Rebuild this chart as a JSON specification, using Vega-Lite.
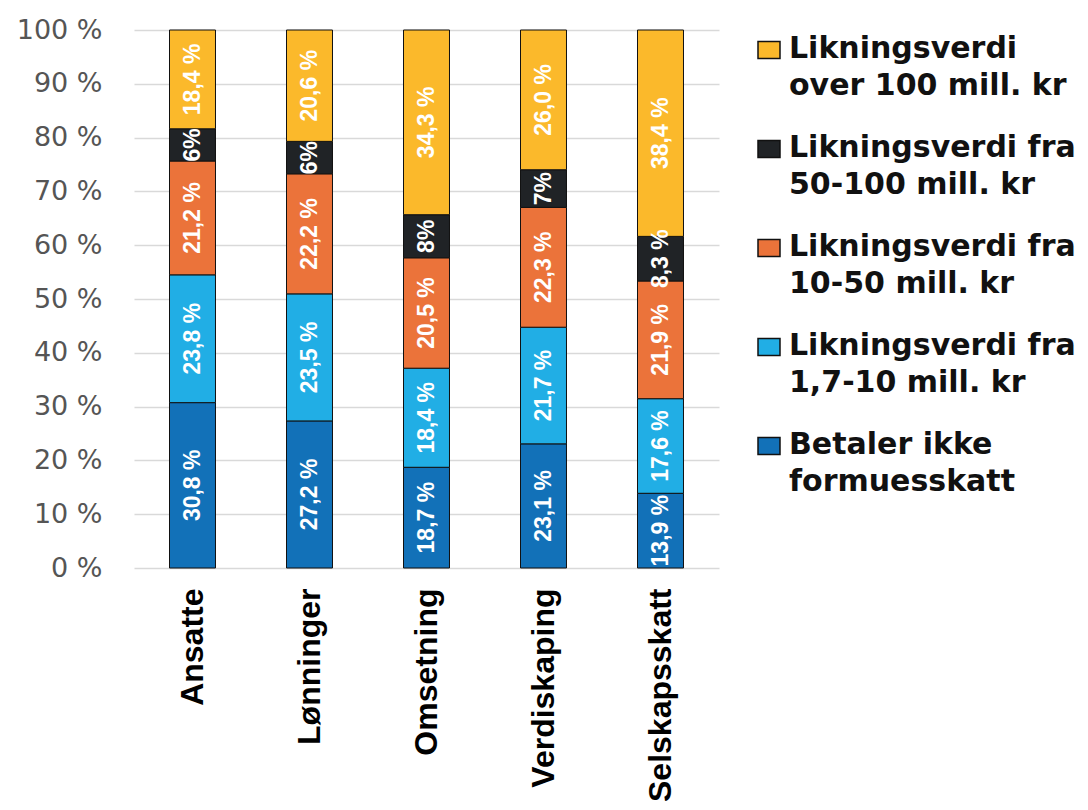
{
  "$schema": "https://vega.github.io/schema/vega-lite/v6.json",
  "width": 585,
  "height": 538,
  "padding": {"left": 16, "top": 16, "right": 0, "bottom": 0},
  "background": "white",
  "data": {
    "values": [
      {"kategori": "Ansatte", "gruppe": "Betaler ikke\nformuesskatt", "rang": 1, "andel": 30.8, "etikett": "30,8 %"},
      {"kategori": "Ansatte", "gruppe": "Likningsverdi fra\n1,7-10 mill. kr", "rang": 2, "andel": 23.8, "etikett": "23,8 %"},
      {"kategori": "Ansatte", "gruppe": "Likningsverdi fra\n10-50 mill. kr", "rang": 3, "andel": 21.2, "etikett": "21,2 %"},
      {"kategori": "Ansatte", "gruppe": "Likningsverdi fra\n50-100 mill. kr", "rang": 4, "andel": 6.0, "etikett": "6%"},
      {"kategori": "Ansatte", "gruppe": "Likningsverdi\nover 100 mill. kr", "rang": 5, "andel": 18.4, "etikett": "18,4 %"},
      {"kategori": "Lønninger", "gruppe": "Betaler ikke\nformuesskatt", "rang": 1, "andel": 27.2, "etikett": "27,2 %"},
      {"kategori": "Lønninger", "gruppe": "Likningsverdi fra\n1,7-10 mill. kr", "rang": 2, "andel": 23.5, "etikett": "23,5 %"},
      {"kategori": "Lønninger", "gruppe": "Likningsverdi fra\n10-50 mill. kr", "rang": 3, "andel": 22.2, "etikett": "22,2 %"},
      {"kategori": "Lønninger", "gruppe": "Likningsverdi fra\n50-100 mill. kr", "rang": 4, "andel": 6.0, "etikett": "6%"},
      {"kategori": "Lønninger", "gruppe": "Likningsverdi\nover 100 mill. kr", "rang": 5, "andel": 20.6, "etikett": "20,6 %"},
      {"kategori": "Omsetning", "gruppe": "Betaler ikke\nformuesskatt", "rang": 1, "andel": 18.7, "etikett": "18,7 %"},
      {"kategori": "Omsetning", "gruppe": "Likningsverdi fra\n1,7-10 mill. kr", "rang": 2, "andel": 18.4, "etikett": "18,4 %"},
      {"kategori": "Omsetning", "gruppe": "Likningsverdi fra\n10-50 mill. kr", "rang": 3, "andel": 20.5, "etikett": "20,5 %"},
      {"kategori": "Omsetning", "gruppe": "Likningsverdi fra\n50-100 mill. kr", "rang": 4, "andel": 8.0, "etikett": "8%"},
      {"kategori": "Omsetning", "gruppe": "Likningsverdi\nover 100 mill. kr", "rang": 5, "andel": 34.3, "etikett": "34,3 %"},
      {"kategori": "Verdiskaping", "gruppe": "Betaler ikke\nformuesskatt", "rang": 1, "andel": 23.1, "etikett": "23,1 %"},
      {"kategori": "Verdiskaping", "gruppe": "Likningsverdi fra\n1,7-10 mill. kr", "rang": 2, "andel": 21.7, "etikett": "21,7 %"},
      {"kategori": "Verdiskaping", "gruppe": "Likningsverdi fra\n10-50 mill. kr", "rang": 3, "andel": 22.3, "etikett": "22,3 %"},
      {"kategori": "Verdiskaping", "gruppe": "Likningsverdi fra\n50-100 mill. kr", "rang": 4, "andel": 7.0, "etikett": "7%"},
      {"kategori": "Verdiskaping", "gruppe": "Likningsverdi\nover 100 mill. kr", "rang": 5, "andel": 26.0, "etikett": "26,0 %"},
      {"kategori": "Selskapsskatt", "gruppe": "Betaler ikke\nformuesskatt", "rang": 1, "andel": 13.9, "etikett": "13,9 %"},
      {"kategori": "Selskapsskatt", "gruppe": "Likningsverdi fra\n1,7-10 mill. kr", "rang": 2, "andel": 17.6, "etikett": "17,6 %"},
      {"kategori": "Selskapsskatt", "gruppe": "Likningsverdi fra\n10-50 mill. kr", "rang": 3, "andel": 21.9, "etikett": "21,9 %"},
      {"kategori": "Selskapsskatt", "gruppe": "Likningsverdi fra\n50-100 mill. kr", "rang": 4, "andel": 8.3, "etikett": "8,3 %"},
      {"kategori": "Selskapsskatt", "gruppe": "Likningsverdi\nover 100 mill. kr", "rang": 5, "andel": 38.4, "etikett": "38,4 %"}
    ]
  },
  "encoding": {
    "x": {
      "field": "kategori",
      "type": "nominal",
      "sort": ["Ansatte", "Lønninger", "Omsetning", "Verdiskaping", "Selskapsskatt"],
      "scale": {"paddingInner": 0.607, "paddingOuter": 0.3035},
      "axis": {
        "title": null,
        "labelAngle": -90,
        "labelAlign": "right",
        "labelBaseline": "middle",
        "labelFont": "Liberation Sans",
        "labelFontWeight": "bold",
        "labelFontSize": 32,
        "labelColor": "#000000",
        "labelPadding": 20,
        "labelLimit": 400,
        "domain": false,
        "ticks": false,
        "grid": false
      }
    },
    "y": {
      "field": "andel",
      "type": "quantitative",
      "stack": "normalize",
      "scale": {"domain": [0, 1]},
      "axis": {
        "title": null,
        "values": [0, 0.1, 0.2, 0.3, 0.4, 0.5, 0.6, 0.7, 0.8, 0.9, 1],
        "labelExpr": "round(datum.value * 100) + ' %'",
        "domain": false,
        "ticks": false,
        "labelFont": "DejaVu Sans",
        "labelFontSize": 27,
        "labelColor": "#555555",
        "labelPadding": 32,
        "gridColor": "#D9D9D9",
        "gridWidth": 1.5
      }
    },
    "order": {"field": "rang", "type": "quantitative"}
  },
  "layer": [
    {
      "mark": {"type": "bar", "stroke": "#111111", "strokeWidth": 1},
      "encoding": {
        "color": {
          "field": "gruppe",
          "type": "nominal",
          "scale": {
            "domain": [
              "Likningsverdi\nover 100 mill. kr",
              "Likningsverdi fra\n50-100 mill. kr",
              "Likningsverdi fra\n10-50 mill. kr",
              "Likningsverdi fra\n1,7-10 mill. kr",
              "Betaler ikke\nformuesskatt"
            ],
            "range": ["#FBB92B", "#202326", "#EB733A", "#21AEE5", "#1271B8"]
          },
          "legend": {
            "title": null,
            "orient": "right",
            "offset": 22,
            "padding": 13,
            "labelExpr": "split(datum.label, '\\n')",
            "labelFont": "DejaVu Sans",
            "labelFontWeight": "bold",
            "labelFontSize": 30,
            "labelColor": "#111111",
            "labelLimit": 500,
            "labelBaseline": "alphabetic",
            "labelOffset": 5,
            "symbolType": "M-1.27,-1.9H1.27V0.06H-1.27Z",
            "symbolSize": 300,
            "symbolStrokeColor": "#111111",
            "symbolStrokeWidth": 1.5,
            "symbolOpacity": 1,
            "rowPadding": 32
          }
        }
      }
    },
    {
      "mark": {
        "type": "text",
        "angle": 270,
        "align": "center",
        "baseline": "middle",
        "color": "#FFFFFF",
        "font": "Liberation Sans",
        "fontWeight": "bold",
        "fontSize": 23
      },
      "encoding": {
        "y": {"field": "andel", "type": "quantitative", "stack": "normalize", "bandPosition": 0.5},
        "detail": {"field": "gruppe", "type": "nominal"},
        "text": {"field": "etikett", "type": "nominal"}
      }
    }
  ],
  "config": {
    "view": {"stroke": null},
    "style": {"guide-label": {"lineHeight": 37}}
  }
}
